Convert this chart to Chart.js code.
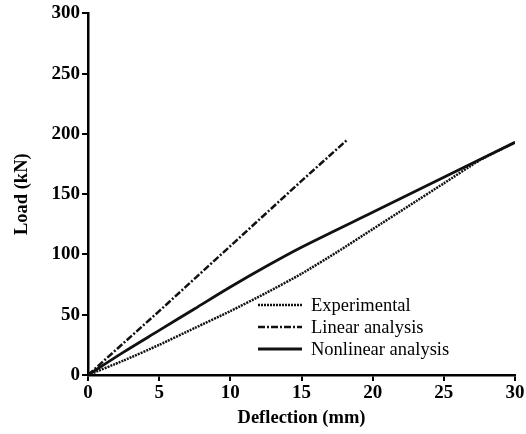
<!DOCTYPE html>
<html>
<head>
<meta charset="utf-8">
<script src="https://cdn.jsdelivr.net/npm/chart.js@4/dist/chart.umd.min.js"></script>
<style>
  body { margin: 0; background: #fff; }
  #wrap { width: 526px; height: 434px; }
</style>
</head>
<body>
<div id="wrap"><canvas id="load-chart" width="526" height="434"></canvas></div>
<script>
// values
const expDeflection = [0, 2.5, 5, 7.5, 10, 12.5, 15, 17.5, 20, 22.5, 25, 27.5, 30];
const expLoad = [0, 12, 25, 39, 53, 68, 84, 102, 121, 140, 159, 178, 193];

const linDeflection = [0, 5, 10, 15, 18.2];
const linLoad = [0, 53, 107, 161, 195];

const nonlinDeflection = [0, 2.5, 5, 7.5, 10, 12.5, 15, 20, 25, 30];
const nonlinLoad = [0, 19, 37, 55, 73, 90, 106, 135, 164, 193];

const xTicks = [0, 5, 10, 15, 20, 25, 30];
const yTicks = [0, 50, 100, 150, 200, 250, 300];

const toPoints = (xs, ys) => xs.map((x, i) => ({ x: x, y: ys[i] }));

// legend drawn inside the plot, bottom right
const innerLegend = {
    id: 'innerLegend',
    afterDraw(chart) {
        const ctx = chart.ctx;
        const x0 = 258, x1 = 302, tx = 311;
        const rows = [305, 327, 349];
        ctx.save();
        chart.data.datasets.forEach((ds, i) => {
            const y = rows[i];
            ctx.strokeStyle = ds.borderColor;
            ctx.lineWidth = ds.borderWidth;
            ctx.setLineDash(ds.borderDash || []);
            ctx.beginPath();
            ctx.moveTo(x0, y);
            ctx.lineTo(x1, y);
            ctx.stroke();
            ctx.setLineDash([]);
            ctx.fillStyle = '#000';
            ctx.font = '18.5px "Liberation Serif"';
            ctx.textBaseline = 'middle';
            ctx.fillText(ds.label, tx, y + 1);
        });
        ctx.restore();
    }
};

var ctx = document.getElementById('load-chart').getContext('2d');

new Chart(ctx, {
    type: 'scatter',
    data: {
        datasets: [{
            label: 'Experimental',
            data: toPoints(expDeflection, expLoad),
            showLine: true,
            borderColor: '#111',
            borderWidth: 2.5,
            borderDash: [2, 1],
            pointRadius: 0,
            tension: 0.2
        }, {
            label: 'Linear analysis',
            data: toPoints(linDeflection, linLoad),
            showLine: true,
            borderColor: '#111',
            borderWidth: 2.5,
            borderDash: [7, 2, 2, 2],
            pointRadius: 0
        }, {
            label: 'Nonlinear analysis',
            data: toPoints(nonlinDeflection, nonlinLoad),
            showLine: true,
            borderColor: '#111',
            borderWidth: 2.8,
            pointRadius: 0,
            tension: 0.3
        }]
    },
    options: {
        responsive: false,
        animation: false,
        layout: { padding: { left: 0, top: 13, right: 11, bottom: 0 } },
        plugins: {
            legend: { display: false },
            tooltip: { enabled: false }
        },
        scales: {
            x: {
                type: 'linear',
                min: 0,
                max: 30,
                afterFit: (scale) => { scale.height = 59; },
                afterBuildTicks: (scale) => { scale.ticks = xTicks.map(v => ({ value: v })); },
                border: { display: true, color: '#000', width: 2.5 },
                grid: { drawOnChartArea: false, color: '#000', tickLength: 6, lineWidth: 2 },
                ticks: {
                    color: '#000',
                    padding: 1,
                    maxRotation: 0,
                    font: { family: '"Liberation Serif"', size: 19, weight: 'bold' }
                },
                title: {
                    display: true,
                    text: 'Deflection (mm)',
                    color: '#000',
                    padding: { top: 0, bottom: 5 },
                    font: { family: '"Liberation Serif"', size: 18.5, weight: 'bold' }
                }
            },
            y: {
                min: 0,
                max: 300,
                afterFit: (scale) => { scale.width = 88; },
                afterBuildTicks: (scale) => { scale.ticks = yTicks.map(v => ({ value: v })); },
                border: { display: true, color: '#000', width: 2.5 },
                grid: { drawOnChartArea: false, color: '#000', tickLength: 6, lineWidth: 2 },
                ticks: {
                    color: '#000',
                    padding: 2,
                    font: { family: '"Liberation Serif"', size: 19, weight: 'bold' }
                },
                title: {
                    display: true,
                    text: 'Load (kN)',
                    color: '#000',
                    padding: { top: 11, bottom: 0 },
                    font: { family: '"Liberation Serif"', size: 18.5, weight: 'bold' }
                }
            }
        }
    },
    plugins: [innerLegend]
});
</script>
</body>
</html>
